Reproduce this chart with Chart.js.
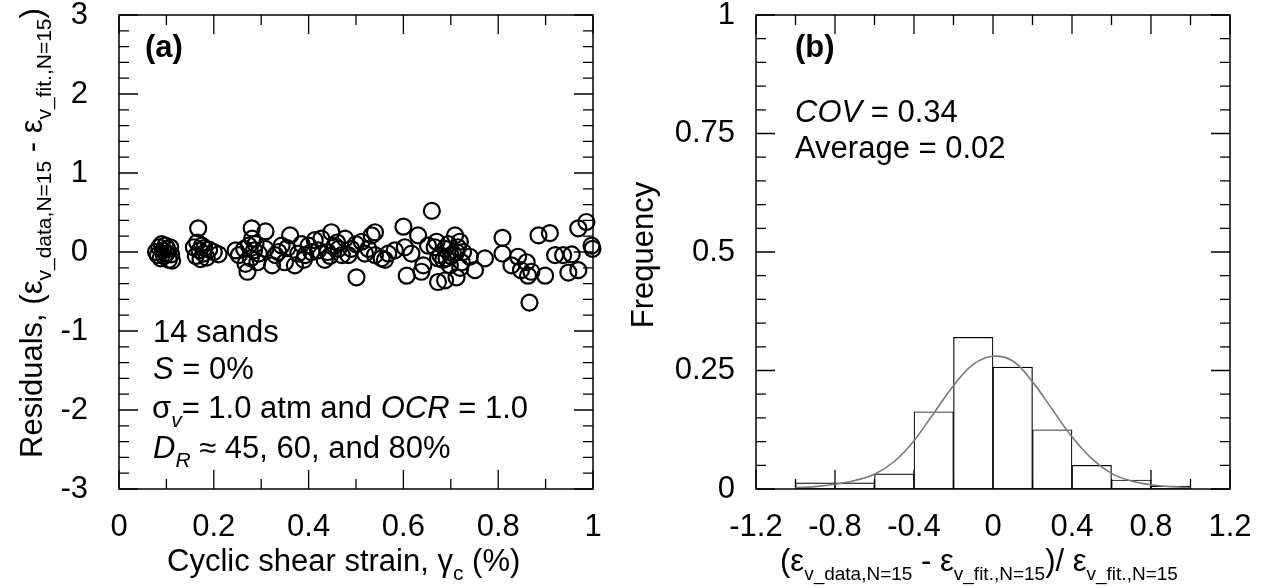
<!DOCTYPE html>
<html>
<head>
<meta charset="utf-8">
<script src="https://cdn.jsdelivr.net/npm/chart.js@4/dist/chart.umd.min.js"></script>
<style>
  body { margin: 0; background: #fff; }
  canvas { position: absolute; top: 0; }
  #left { left: 0; }
  #right { left: 620px; }
</style>
</head>
<body>
<canvas id="left" width="620" height="588"></canvas>
<canvas id="right" width="643" height="588"></canvas>
<script>
// (a) residuals vs cyclic shear strain
const strainX = [
  0.078, 0.082, 0.085, 0.088, 0.09, 0.093, 0.095, 0.098, 0.1, 0.102, 0.105, 0.108, 0.11, 0.112,
  0.167, 0.158, 0.162, 0.165, 0.17, 0.172, 0.175, 0.178, 0.18, 0.185, 0.19, 0.2, 0.21,
  0.246, 0.253, 0.271, 0.28, 0.281, 0.274, 0.285, 0.278, 0.267, 0.292, 0.295, 0.309, 0.309, 0.323, 0.33, 0.288, 0.264,
  0.336, 0.343, 0.35, 0.361, 0.371, 0.378, 0.393, 0.4, 0.406, 0.413, 0.42, 0.427, 0.434, 0.44, 0.448, 0.455,
  0.463, 0.47, 0.477, 0.484, 0.49, 0.501, 0.512, 0.519, 0.526, 0.533, 0.54, 0.54, 0.554, 0.561, 0.568, 0.582,
  0.6, 0.603, 0.607, 0.617, 0.631, 0.638, 0.642, 0.652, 0.66, 0.666, 0.673, 0.673,
  0.67, 0.678, 0.684, 0.688, 0.691, 0.698, 0.688, 0.705, 0.709, 0.712, 0.712, 0.719, 0.723, 0.726, 0.74, 0.751,
  0.772, 0.809, 0.809, 0.828, 0.842, 0.848, 0.86, 0.863, 0.866, 0.87, 0.885, 0.899, 0.909, 0.92, 0.937, 0.948,
  0.955, 0.969, 0.969, 0.986, 0.997, 0.999,
  0.355, 0.385, 0.39, 0.445, 0.46, 0.5, 0.695, 0.7, 0.715, 0.72
];
const residualY = [
  0.0, -0.04, 0.06, -0.08, 0.1, 0.02, -0.05, 0.08, -0.02, 0.04, -0.1, 0.06, -0.03, -0.11,
  0.30, 0.06, -0.05, 0.12, 0.02, -0.09, 0.08, -0.02, 0.05, -0.07, 0.03, 0.0, -0.03,
  0.02, -0.04, -0.25, 0.30, 0.17, 0.08, 0.02, -0.08, -0.15, -0.13, -0.02, 0.26, 0.04, -0.17, -0.04, 0.1, 0.04,
  0.0, 0.08, -0.13, 0.21, -0.17, -0.02, -0.04, 0.08, 0.0, 0.15, 0.02, 0.17, -0.1, 0.0, 0.25, 0.08,
  0.04, -0.04, 0.17, -0.04, 0.04, -0.32, 0.13, -0.02, 0.04, 0.21, 0.25, -0.04, -0.08, -0.1, -0.02, 0.02,
  0.32, 0.06, -0.30, -0.02, 0.21, -0.25, -0.17, 0.08, 0.52, 0.06, -0.08, -0.38,
  0.13, -0.04, -0.1, 0.04, -0.08, -0.17, -0.36, -0.02, 0.21, 0.0, -0.32, 0.13, -0.13, 0.0, -0.06, -0.23,
  -0.08, 0.18, -0.02, -0.17, -0.06, -0.23, -0.13, -0.3, -0.64, -0.25, 0.21, -0.3, 0.24, -0.04, -0.04, -0.26,
  -0.03, -0.23, 0.3, 0.38, 0.08, 0.04,
  0.05, 0.1, -0.1, -0.05, 0.12, 0.1, 0.1, -0.05, 0.06, -0.2
];

// (b) histogram of normalised residuals
const binCenters = [-0.9, -0.7, -0.5, -0.3, -0.1, 0.1, 0.3, 0.5, 0.7, 0.9];
const binFreq = [0.013, 0.013, 0.032, 0.163, 0.320, 0.257, 0.125, 0.050, 0.019, 0.006];
const curveX = [-1.0, -0.9, -0.8, -0.7, -0.6, -0.5, -0.4, -0.3, -0.2, -0.1, 0, 0.1, 0.2, 0.3, 0.4, 0.5, 0.6, 0.7, 0.8, 0.9, 1.0];
const curveY = [0.003, 0.005, 0.010, 0.018, 0.031, 0.058, 0.102, 0.160, 0.218, 0.263, 0.280, 0.270, 0.226, 0.168, 0.110, 0.064, 0.033, 0.017, 0.009, 0.005, 0.003];

const FONT = '"Liberation Sans", Arial, sans-serif';
Chart.defaults.font.family = FONT;
Chart.defaults.color = '#000';

// draws text made of pieces: [text, style] where style may contain i (italic), b (bold), s (subscript)
function rich(ctx, x, y, parts, opt) {
  const main = opt.size || 31, sub = opt.sub || 21;
  ctx.save();
  ctx.translate(x, y);
  if (opt.rotate) ctx.rotate(opt.rotate);
  ctx.fillStyle = '#000';
  ctx.textBaseline = 'alphabetic';
  ctx.textAlign = 'left';
  let total = 0;
  const fonts = parts.map(([t, st = '']) => {
    const s = st.includes('s') ? sub : main;
    const f = (st.includes('i') ? 'italic ' : '') + (st.includes('b') ? 'bold ' : '') + s + 'px ' + FONT;
    ctx.font = f;
    const w = ctx.measureText(t).width;
    total += w;
    return { t, f, w, dy: st.includes('s') ? main * 0.28 : 0 };
  });
  let cx = opt.center ? -total / 2 : 0;
  for (const p of fonts) {
    ctx.font = p.f;
    ctx.fillText(p.t, cx, p.dy);
    cx += p.w;
  }
  ctx.restore();
}

// inward ticks on all four sides plus the box
const framePlugin = {
  id: 'frame',
  beforeDatasetsDraw(chart, args, o) {
    const { ctx, chartArea: a, scales: { x, y } } = chart;
    ctx.save();
    ctx.strokeStyle = '#000';
    ctx.lineWidth = 1.3;
    ctx.beginPath();
    const nx = Math.round((x.max - x.min) / o.xMinor);
    for (let i = 0; i <= nx; i++) {
      const v = x.min + i * o.xMinor;
      const r = v / o.xMajor;
      const len = Math.abs(r - Math.round(r)) < 1e-6 ? 19 : 10;
      const px = x.getPixelForValue(v);
      ctx.moveTo(px, a.top); ctx.lineTo(px, a.top + len);
      ctx.moveTo(px, a.bottom); ctx.lineTo(px, a.bottom - len);
    }
    const ny = Math.round((y.max - y.min) / o.yMinor);
    for (let i = 0; i <= ny; i++) {
      const v = y.min + i * o.yMinor;
      const r = v / o.yMajor;
      const len = Math.abs(r - Math.round(r)) < 1e-6 ? 19 : 10;
      const py = y.getPixelForValue(v);
      ctx.moveTo(a.left, py); ctx.lineTo(a.left + len, py);
      ctx.moveTo(a.right, py); ctx.lineTo(a.right - len, py);
    }
    ctx.stroke();
    ctx.restore();
  },
  afterDatasetsDraw(chart) {
    const { ctx, chartArea: a } = chart;
    ctx.save();
    ctx.strokeStyle = '#000';
    ctx.lineWidth = 1.5;
    ctx.strokeRect(a.left, a.top, a.right - a.left, a.bottom - a.top);
    ctx.restore();
  },
  afterDraw(chart, args, o) {
    if (o.texts) o.texts(chart.ctx);
  }
};

const fmt = v => String(+v.toFixed(2));
// keep tick labels from pushing the plot area around
function fixSize(w, h) {
  return s => {
    if (w) s.width = w;
    if (h) s.height = h;
    s.paddingTop = s.paddingBottom = s.paddingLeft = s.paddingRight = 0;
  };
}

new Chart(document.getElementById('left'), {
  type: 'scatter',
  data: {
    datasets: [{
      data: strainX.map((x, i) => ({ x, y: residualY[i] })),
      pointStyle: 'circle',
      pointRadius: 8,
      pointBorderWidth: 2.2,
      borderColor: '#000',
      backgroundColor: 'rgba(0,0,0,0)',
      clip: false
    }]
  },
  options: {
    responsive: false,
    animation: false,
    layout: { padding: { left: 0, right: 27, top: 15, bottom: 0 } },
    plugins: {
      legend: { display: false },
      tooltip: { enabled: false },
      frame: {
        xMinor: 0.1, xMajor: 0.2, yMinor: 0.2, yMajor: 1,
        texts(ctx) {
          rich(ctx, 145, 57, [['(a)', 'b']], {});
          rich(ctx, 153, 342, [['14 sands']], {});
          rich(ctx, 153, 379, [['S', 'i'], [' = 0%']], {});
          rich(ctx, 152, 418, [['σ'], ['v', 'si'], ['= 1.0 atm and '], ['OCR', 'i'], [' = 1.0']], {});
          rich(ctx, 153, 458, [['D', 'i'], ['R', 'si'], [' ≈ 45, 60, and 80%']], {});
          rich(ctx, 167, 571, [['Cyclic shear strain, γ'], ['c', 's'], [' (%)']], {});
          rich(ctx, 42, 458, [['Residuals, ('], ['ε'], ['v_data,N=15', 's'], [' - '], ['ε'], ['v_fit.,N=15', 's'], [')']],
            { rotate: -Math.PI / 2, sub: 21 });
        }
      }
    },
    scales: {
      x: {
        type: 'linear', min: 0, max: 1,
        grid: { display: false, drawTicks: false },
        border: { display: false },
        ticks: { stepSize: 0.2, font: { size: 31 }, padding: 20, callback: fmt, maxRotation: 0 },
        afterFit: fixSize(0, 99)
      },
      y: {
        min: -3, max: 3,
        grid: { display: false, drawTicks: false },
        border: { display: false },
        ticks: { stepSize: 1, font: { size: 31 }, padding: 31, callback: fmt },
        afterFit: fixSize(119, 0)
      }
    }
  },
  plugins: [framePlugin]
});

new Chart(document.getElementById('right'), {
  type: 'bar',
  data: {
    datasets: [{
      type: 'line',
      data: curveX.map((x, i) => ({ x, y: curveY[i] })),
      borderColor: '#7a7a7a',
      borderWidth: 1.6,
      pointRadius: 0,
      tension: 0.4,
      order: 0
    }, {
      type: 'bar',
      data: binCenters.map((x, i) => ({ x, y: binFreq[i] })),
      backgroundColor: '#fff',
      borderColor: '#000',
      borderWidth: 1.2,
      borderSkipped: false,
      barPercentage: 1,
      categoryPercentage: 1,
      order: 1
    }]
  },
  options: {
    responsive: false,
    animation: false,
    layout: { padding: { left: 0, right: 33, top: 15, bottom: 0 } },
    plugins: {
      legend: { display: false },
      tooltip: { enabled: false },
      frame: {
        xMinor: 0.2, xMajor: 0.4, yMinor: 0.05, yMajor: 0.25,
        texts(ctx) {
          rich(ctx, 175, 57, [['(b)', 'b']], {});
          rich(ctx, 175, 122, [['COV', 'i'], [' = 0.34']], {});
          rich(ctx, 175, 158, [['Average = 0.02']], {});
          rich(ctx, 33, 255, [['Frequency']], { rotate: -Math.PI / 2, center: true, size: 31 });
          rich(ctx, 160, 571, [['('], ['ε'], ['v_data,N=15', 's'], [' - '], ['ε'], ['v_fit.,N=15', 's'], [')/ '], ['ε'], ['v_fit.,N=15', 's']],
            { sub: 19 });
        }
      }
    },
    scales: {
      x: {
        type: 'linear', min: -1.2, max: 1.2, offset: false,
        grid: { display: false, drawTicks: false },
        border: { display: false },
        ticks: { stepSize: 0.4, font: { size: 31 }, padding: 20, callback: fmt, maxRotation: 0 },
        afterFit: fixSize(0, 99)
      },
      y: {
        min: 0, max: 1,
        grid: { display: false, drawTicks: false },
        border: { display: false },
        ticks: { stepSize: 0.25, font: { size: 31 }, padding: 21, callback: fmt },
        afterFit: fixSize(136, 0)
      }
    }
  },
  plugins: [framePlugin]
});
</script>
</body>
</html>
